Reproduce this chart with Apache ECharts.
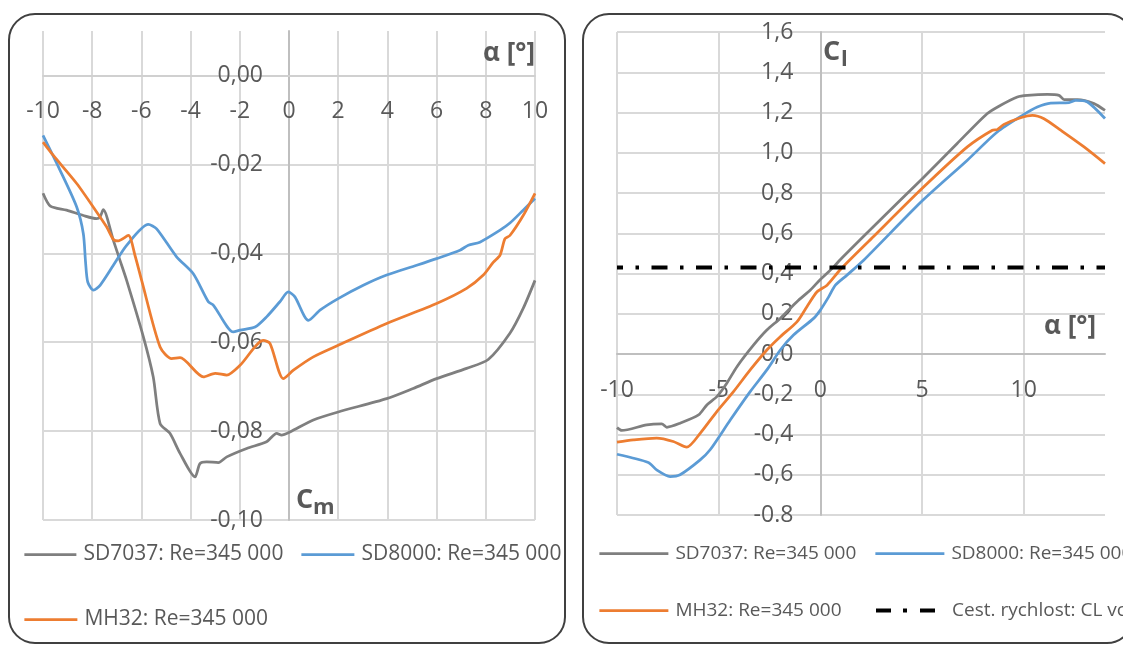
<!DOCTYPE html>
<html><head><meta charset="utf-8">
<script src="https://cdn.jsdelivr.net/npm/echarts@6/dist/echarts.min.js"></script>
<style>html,body{margin:0;padding:0;background:#fff}#c{width:1123px;height:646px}</style>
</head><body><div id="c"></div>
<script>
// ---- names ----
const nameSD7037 = 'SD7037: Re=345 000';
const nameSD8000 = 'SD8000: Re=345 000';
const nameMH32 = 'MH32: Re=345 000';
const nameCruise = 'Cest. rychlost: CL vcest';

// ---- Cm vs alpha (left) ----
const cmAlphaSD7037 = [-10, -9.7, -9.04, -8.36, -7.82, -7.68, -7.55, -7.14, -6.87, -6.6, -5.92, -5.52, -5.24, -4.84, -4.43, -3.82, -3.62, -3.35, -2.87, -2.53, -1.72, -0.91, -0.5, -0.3, 0.04, 0.99, 2.0, 3.97, 5.05, 6.0, 7.22, 8.1, 8.98, 9.52, 10.0];
const cmSD7037 = [-0.0265, -0.0294, -0.0303, -0.0315, -0.0322, -0.0318, -0.0302, -0.0371, -0.0416, -0.0461, -0.0588, -0.0678, -0.0783, -0.0805, -0.0850, -0.0903, -0.0873, -0.0869, -0.0871, -0.0858, -0.0839, -0.0824, -0.0805, -0.0809, -0.0802, -0.0775, -0.0757, -0.0727, -0.0704, -0.0682, -0.0659, -0.0639, -0.0580, -0.0524, -0.0461];

const cmAlphaSD8000 = [-10, -9.31, -8.63, -8.36, -8.27, -8.18, -7.95, -7.68, -7.14, -6.6, -5.72, -5.38, -4.57, -3.89, -3.28, -3.07, -2.26, -1.99, -1.38, -0.91, -0.37, -0.03, 0.24, 0.79, 1.26, 2.0, 3.02, 3.97, 5.19, 6.0, 6.95, 7.29, 7.76, 8.58, 8.98, 9.52, 10.0];
const cmSD8000 = [-0.0135, -0.0213, -0.0296, -0.0356, -0.0420, -0.0465, -0.0483, -0.0472, -0.0427, -0.0382, -0.0335, -0.0345, -0.0408, -0.0446, -0.0509, -0.0517, -0.0577, -0.0573, -0.0566, -0.0543, -0.0509, -0.0487, -0.0498, -0.0551, -0.0528, -0.0502, -0.0472, -0.0449, -0.0427, -0.0412, -0.0393, -0.0382, -0.0375, -0.0348, -0.0332, -0.0303, -0.0277];

const cmAlphaMH32 = [-10, -9.58, -8.63, -7.82, -7.41, -7.14, -6.94, -6.53, -6.26, -5.99, -5.24, -4.77, -4.43, -3.48, -3.0, -2.53, -1.99, -1.04, -0.77, -0.23, 0.18, 0.99, 2.0, 3.97, 6.0, 7.22, 7.9, 8.31, 8.58, 8.78, 8.98, 9.52, 10.0];
const cmMH32 = [-0.0150, -0.0180, -0.0243, -0.0307, -0.0341, -0.0369, -0.0372, -0.0360, -0.0405, -0.0461, -0.0611, -0.0637, -0.0635, -0.0678, -0.0670, -0.0674, -0.0652, -0.0596, -0.0603, -0.0682, -0.0663, -0.0633, -0.0607, -0.0558, -0.0513, -0.0479, -0.0449, -0.0420, -0.0404, -0.0367, -0.0360, -0.0315, -0.0265];

// ---- Cl vs alpha (right) ----
const clAlphaSD7037 = [-10, -9.77, -8.54, -7.8, -7.55, -6.9, -5.99, -5.58, -5.09, -4.6, -4.1, -3.28, -2.63, -1.97, -1.15, -0.49, 0, 0.66, 0.99, 2.63, 5.0, 6.73, 8.2, 8.87, 9.69, 10.18, 11.17, 11.74, 11.99, 12.65, 13.46, 14.0];
const clSD7037 = [-0.366, -0.380, -0.352, -0.347, -0.364, -0.344, -0.303, -0.253, -0.212, -0.145, -0.063, 0.045, 0.119, 0.177, 0.260, 0.318, 0.370, 0.433, 0.470, 0.635, 0.870, 1.046, 1.194, 1.236, 1.277, 1.285, 1.290, 1.285, 1.264, 1.264, 1.244, 1.210];

const clAlphaSD8000 = [-10, -8.46, -8.05, -7.39, -6.9, -5.91, -5.42, -4.43, -3.45, -2.63, -1.97, -1.32, -0.33, 0, 0.41, 0.74, 1.31, 2.13, 5.0, 7.23, 8.7, 9.94, 10.67, 11.33, 12.23, 12.56, 13.14, 14.0];
const clSD8000 = [-0.498, -0.539, -0.576, -0.609, -0.600, -0.526, -0.476, -0.328, -0.187, -0.079, 0.020, 0.094, 0.177, 0.218, 0.284, 0.342, 0.392, 0.466, 0.760, 0.963, 1.103, 1.186, 1.227, 1.247, 1.249, 1.260, 1.252, 1.170];

const clAlphaMH32 = [-10, -9.2, -8.05, -7.23, -6.57, -5.91, -5.09, -4.27, -3.45, -2.63, -1.97, -1.15, -0.66, -0.16, 0.33, 0.99, 2.63, 5.0, 7.23, 8.46, 8.7, 9.03, 9.85, 10.43, 11.0, 11.82, 12.97, 14.0];
const clMH32 = [-0.438, -0.427, -0.418, -0.435, -0.463, -0.394, -0.286, -0.187, -0.079, 0.020, 0.086, 0.160, 0.235, 0.309, 0.342, 0.420, 0.585, 0.822, 1.029, 1.112, 1.115, 1.141, 1.174, 1.186, 1.169, 1.112, 1.029, 0.946];

const cruiseAlpha = [-10, 14];
const cruiseCl = [0.43, 0.43];

// ---- axis ranges & tick labels ----
const cmRange = [-0.10, 0.01], cmStep = 0.02;
const clRange = [-0.8, 1.6], clStep = 0.2;
const alphaRangeL = [-10, 10], alphaStepL = 2;
const alphaRangeR = [-10, 14], alphaStepR = 5;
const cmTickLabels = ['-0,10', '-0,08', '-0,06', '-0,04', '-0,02', '0,00'];
const clTickLabels = ['-0.8', '-0,6', '-0,4', '-0,2', '0,0', '0,2', '0,4', '0,6', '0,8', '1,0', '1,2', '1,4', '1,6'];
const alphaTickLabelsL = ['-10', '-8', '-6', '-4', '-2', '0', '2', '4', '6', '8', '10'];
const alphaTickLabelsR = ['-10', '-5', '0', '5', '10'];

const zip = (xs, ys) => xs.map((x, i) => [x, ys[i]]);
const pick = (arr, min, step) => v => {
  const k = (v - min) / step;
  const r = Math.round(k);
  return (Math.abs(k - r) < 1e-6 && r >= 0 && r < arr.length) ? arr[r] : '';
};

const FONT = '"Open Sans", "Liberation Sans", sans-serif';
const TXT = '#595959';
const GRID = '#d9d9d9';
const AXIS = '#bfbfbf';
const C_GRAY = '#7f7f7f', C_BLUE = '#5b9bd5', C_ORANGE = '#ed7d31';
const LW = 2.75;

// grid boxes (layout)
const G0 = { left: 43, top: 31, width: 492, height: 489 };
const G1 = { left: 617, top: 32, width: 488, height: 483 };
// offset to bring axis to the zero of the other axis
const zeroOffX = (g, yr) => -(g.height * (0 - yr[0]) / (yr[1] - yr[0]));
const zeroOffY = (g, xr) => -(g.width * (0 - xr[0]) / (xr[1] - xr[0]));

function xAx(gi, range, interval, labels, margin, offset, showMax, lineColor) {
  return {
    type: 'value', gridIndex: gi, min: range[0], max: range[1], interval,
    position: 'bottom', offset,
    axisLine: { onZero: false, lineStyle: { color: lineColor, width: 2 } },
    axisTick: { show: false },
    axisLabel: { margin, fontSize: 23, color: TXT, fontFamily: FONT, showMaxLabel: showMax, formatter: pick(labels, range[0], interval) },
    splitLine: { show: true, showMaxLine: showMax, lineStyle: { color: GRID, width: 2 } }
  };
}
function yAx(gi, range, interval, labels, margin, offset, showMax) {
  return {
    type: 'value', gridIndex: gi, min: range[0], max: range[1], interval,
    position: 'left', offset,
    axisLine: { onZero: false, lineStyle: { color: AXIS, width: 2 } },
    axisTick: { show: false },
    axisLabel: { margin, fontSize: 23, color: TXT, fontFamily: FONT, showMaxLabel: showMax, formatter: pick(labels, range[0], interval) },
    splitLine: { show: true, showMaxLine: showMax, lineStyle: { color: GRID, width: 2 } }
  };
}
function line(name, color, xi, data) {
  return {
    type: 'line', name, xAxisIndex: xi, yAxisIndex: xi, data,
    symbol: 'none', showSymbol: false, smooth: 0.25,
    lineStyle: { color, width: LW }, itemStyle: { color }
  };
}
function leg(name, left, cy, w, fs, extra) {
  return Object.assign({
    data: [name], left, top: cy - 9, padding: 0, itemWidth: w, itemHeight: 22,
    selectedMode: false,
    itemStyle: { opacity: 0 },
    lineStyle: { width: LW },
    textStyle: { fontSize: fs, color: TXT, fontFamily: FONT, padding: [0, 0, 0, 2] }
  }, extra || {});
}

const chart = echarts.init(document.getElementById('c'), null, { renderer: 'canvas' });
chart.setOption({
  animation: false,
  backgroundColor: '#ffffff',
  textStyle: { fontFamily: FONT },
  grid: [
    Object.assign({ outerBoundsMode: 'none', containLabel: false }, G0),
    Object.assign({ outerBoundsMode: 'none', containLabel: false }, G1)
  ],
  xAxis: [
    xAx(0, alphaRangeL, alphaStepL, alphaTickLabelsL, 24, zeroOffX(G0, cmRange), true, '#d0d0d0'),
    xAx(1, alphaRangeR, alphaStepR, alphaTickLabelsR, 25, zeroOffX(G1, clRange), false, AXIS)
  ],
  yAxis: [
    yAx(0, cmRange, cmStep, cmTickLabels, 26, zeroOffY(G0, alphaRangeL), false),
    yAx(1, clRange, clStep, clTickLabels, 27, zeroOffY(G1, alphaRangeR), true)
  ],
  legend: [
    leg(nameSD7037, 23, 553, 52, 21),
    leg(nameSD8000, 300, 553, 53, 21),
    leg(nameMH32, 23, 618, 53, 21),
    leg(nameSD7037, 598, 553, 69, 19),
    leg(nameSD8000, 874, 553, 69, 19),
    leg(nameMH32, 598, 610, 69, 19),
    leg(nameCruise, 874, 610, 69, 19, { lineStyle: { type: [15, 12, 4, 13, 15, 100], dashOffset: 0, width: 4, cap: 'butt' } })
  ],
  series: [
    line(nameSD7037, C_GRAY, 0, zip(cmAlphaSD7037, cmSD7037)),
    line(nameSD8000, C_BLUE, 0, zip(cmAlphaSD8000, cmSD8000)),
    line(nameMH32, C_ORANGE, 0, zip(cmAlphaMH32, cmMH32)),
    line(nameSD7037, C_GRAY, 1, zip(clAlphaSD7037, clSD7037)),
    line(nameSD8000, C_BLUE, 1, zip(clAlphaSD8000, clSD8000)),
    line(nameMH32, C_ORANGE, 1, zip(clAlphaMH32, clMH32)),
    {
      type: 'line', name: nameCruise, xAxisIndex: 1, yAxisIndex: 1,
      data: zip(cruiseAlpha, cruiseCl), symbol: 'none', showSymbol: false,
      lineStyle: { color: '#000000', width: 4, type: [16, 12.5, 3.5, 12.5], dashOffset: 10, cap: 'butt' },
      itemStyle: { color: '#000000' }
    }
  ],
  graphic: [
    { type: 'rect', z: -10, shape: { x: 9, y: 14, width: 556, height: 629, r: 26 }, style: { fill: 'none', stroke: '#404040', lineWidth: 2 } },
    { type: 'rect', z: -10, shape: { x: 583, y: 14, width: 550, height: 629, r: 26 }, style: { fill: 'none', stroke: '#404040', lineWidth: 2 } },
    { type: 'text', z: 50, style: { text: 'α [°]', x: 535, y: 54, align: 'right', verticalAlign: 'middle', font: 'bold 26px ' + FONT, fill: TXT } },
    { type: 'text', z: 50, style: { text: 'C', x: 296, y: 500, align: 'left', verticalAlign: 'middle', font: 'bold 27px ' + FONT, fill: TXT } },
    { type: 'text', z: 50, style: { text: 'm', x: 313, y: 508, align: 'left', verticalAlign: 'middle', font: 'bold 22px ' + FONT, fill: TXT } },
    { type: 'text', z: 50, style: { text: 'α [°]', x: 1096, y: 327, align: 'right', verticalAlign: 'middle', font: 'bold 26px ' + FONT, fill: TXT } },
    { type: 'text', z: 50, style: { text: 'C', x: 823, y: 52, align: 'left', verticalAlign: 'middle', font: 'bold 27px ' + FONT, fill: TXT } },
    { type: 'text', z: 50, style: { text: 'l', x: 841, y: 60, align: 'left', verticalAlign: 'middle', font: 'bold 22px ' + FONT, fill: TXT } }
  ]
});
</script>
</body></html>
